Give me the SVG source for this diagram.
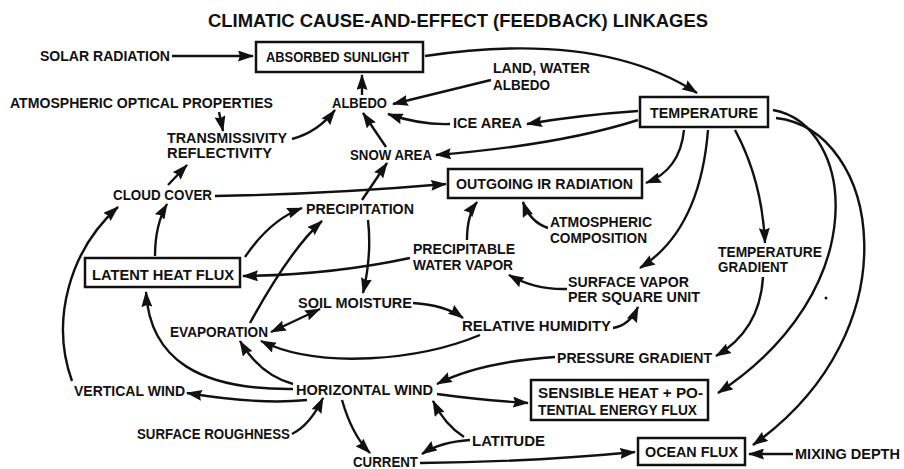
<svg xmlns="http://www.w3.org/2000/svg" width="904" height="469" viewBox="0 0 904 469">
<style>
text{font-family:"Liberation Sans",Arial,sans-serif;font-weight:bold;font-size:14px;fill:#111}
.title{font-size:18px}
.box{fill:#fff;stroke:#111;stroke-width:2.5}
.c{fill:none;stroke:#111;stroke-width:2.4;marker-end:url(#ah)}
.d{marker-start:url(#ah)}
</style>
<defs>
<marker id="ah" markerUnits="userSpaceOnUse" markerWidth="16" markerHeight="11" refX="15" refY="5.5" orient="auto-start-reverse" viewBox="0 0 16 11">
<path d="M0,0 L16,5.5 L0,11 L2,5.5 z" fill="#111"/>
</marker>
</defs>
<rect width="904" height="469" fill="#fff"/>
<text class="title" x="208" y="27" textLength="500" lengthAdjust="spacingAndGlyphs">CLIMATIC CAUSE-AND-EFFECT (FEEDBACK) LINKAGES</text>

<g id="connectors">
<path class="c" d="M172,56 L253,56"/>
<path class="c" d="M425,56 Q600,30 697,93"/>
<path class="c" d="M362,95 L362,75"/>
<path class="c" d="M491,80 Q430,95 393,104"/>
<path class="c" d="M450,124 Q420,125 388,114"/>
<path class="c" d="M638,111 Q580,115 527,124"/>
<path class="c" d="M638,120 Q560,145 436,155"/>
<path class="c" d="M219,112 L223,131"/>
<path class="c" d="M292,139 Q318,132 335,110"/>
<path class="c" d="M386,147 L363,113"/>
<path class="c" d="M684,130 Q680,170 646,183"/>
<path class="c" d="M708,130 Q700,230 640,268"/>
<path class="c" d="M735,130 Q762,180 765,243"/>
<path class="c" d="M763,277 Q760,330 716,356"/>
<path class="c" d="M773,110 C855,125 875,290 718,393"/>
<path class="c" d="M776,118 C880,130 915,330 753,445"/>
<path class="c" d="M548,228 Q530,222 523,202"/>
<path class="c" d="M467,240 Q467,215 477,202"/>
<path class="c" d="M410,258 Q330,275 243,276"/>
<path class="c" d="M567,289 Q535,290 509,275"/>
<path class="c" d="M215,196 Q330,194 446,184"/>
<path class="c" d="M168,185 L187,165"/>
<path class="c" d="M155,256 Q155,225 167,204"/>
<path class="c" d="M72,381 C50,320 70,250 118,207"/>
<path class="c" d="M245,257 Q270,220 302,208"/>
<path class="c" d="M362,200 L387,163"/>
<path class="c" d="M368,220 Q372,255 363,293"/>
<path class="c" d="M250,323 Q290,250 322,221"/>
<path class="c" d="M413,303 Q445,305 463,318"/>
<path class="c" d="M613,328 Q630,325 638,307"/>
<path class="c d" d="M271,332 L320,309"/>
<path class="c" d="M480,335 C420,360 320,370 261,341"/>
<path class="c" d="M555,357 Q480,362 437,384"/>
<path class="c" d="M437,394 Q480,400 528,403"/>
<path class="c" d="M293,384 Q260,375 240,341"/>
<path class="c" d="M293,389 C200,390 150,360 146,292"/>
<path class="c" d="M307,400 Q260,405 187,393"/>
<path class="c" d="M292,434 Q310,425 323,398"/>
<path class="c" d="M342,400 Q352,435 370,453"/>
<path class="c" d="M470,440 Q440,442 422,454"/>
<path class="c" d="M464,437 Q445,425 433,401"/>
<path class="c" d="M420,463 Q530,462 635,452"/>
<path class="c" d="M793,454 L749,454"/>
</g>

<g id="solar-radiation"><text x="40" y="61" textLength="130" lengthAdjust="spacingAndGlyphs">SOLAR RADIATION</text></g>
<g id="absorbed-sunlight"><rect class="box" x="256" y="42" width="167" height="30"/><text x="266" y="62" textLength="143" lengthAdjust="spacingAndGlyphs">ABSORBED SUNLIGHT</text></g>
<g id="albedo"><text x="332" y="108" textLength="55" lengthAdjust="spacingAndGlyphs">ALBEDO</text></g>
<g id="atmospheric-optical-properties"><text x="10" y="108" textLength="263" lengthAdjust="spacingAndGlyphs">ATMOSPHERIC OPTICAL PROPERTIES</text></g>
<g id="land-water-albedo"><text x="493" y="73" textLength="97" lengthAdjust="spacingAndGlyphs">LAND, WATER</text><text x="493" y="90" textLength="57" lengthAdjust="spacingAndGlyphs">ALBEDO</text></g>
<g id="ice-area"><text x="453" y="128" textLength="69" lengthAdjust="spacingAndGlyphs">ICE AREA</text></g>
<g id="temperature"><rect class="box" x="640" y="97" width="128" height="30"/><text x="650" y="118" textLength="108" lengthAdjust="spacingAndGlyphs">TEMPERATURE</text></g>
<g id="transmissivity-reflectivity"><text x="167" y="143" textLength="120" lengthAdjust="spacingAndGlyphs">TRANSMISSIVITY</text><text x="167" y="158" textLength="105" lengthAdjust="spacingAndGlyphs">REFLECTIVITY</text></g>
<g id="snow-area"><text x="350" y="160" textLength="82" lengthAdjust="spacingAndGlyphs">SNOW AREA</text></g>
<g id="outgoing-ir"><rect class="box" x="448" y="169" width="194" height="29"/><text x="456" y="189" textLength="177" lengthAdjust="spacingAndGlyphs">OUTGOING IR RADIATION</text></g>
<g id="cloud-cover"><text x="113" y="200" textLength="99" lengthAdjust="spacingAndGlyphs">CLOUD COVER</text></g>
<g id="precipitation"><text x="306" y="214" textLength="108" lengthAdjust="spacingAndGlyphs">PRECIPITATION</text></g>
<g id="atmospheric-composition"><text x="550" y="227" textLength="102" lengthAdjust="spacingAndGlyphs">ATMOSPHERIC</text><text x="550" y="243" textLength="97" lengthAdjust="spacingAndGlyphs">COMPOSITION</text></g>
<g id="precipitable-water-vapor"><text x="413" y="254" textLength="102" lengthAdjust="spacingAndGlyphs">PRECIPITABLE</text><text x="413" y="270" textLength="100" lengthAdjust="spacingAndGlyphs">WATER VAPOR</text></g>
<g id="temperature-gradient"><text x="718" y="257" textLength="104" lengthAdjust="spacingAndGlyphs">TEMPERATURE</text><text x="718" y="272" textLength="70" lengthAdjust="spacingAndGlyphs">GRADIENT</text></g>
<g id="latent-heat-flux"><rect class="box" x="85" y="258" width="155" height="29"/><text x="92" y="280" textLength="142" lengthAdjust="spacingAndGlyphs">LATENT HEAT FLUX</text></g>
<g id="surface-vapor"><text x="568" y="287" textLength="121" lengthAdjust="spacingAndGlyphs">SURFACE VAPOR</text><text x="568" y="302" textLength="132" lengthAdjust="spacingAndGlyphs">PER SQUARE UNIT</text></g>
<g id="soil-moisture"><text x="298" y="308" textLength="114" lengthAdjust="spacingAndGlyphs">SOIL MOISTURE</text></g>
<g id="relative-humidity"><text x="462" y="331" textLength="149" lengthAdjust="spacingAndGlyphs">RELATIVE HUMIDITY</text></g>
<g id="evaporation"><text x="170" y="337" textLength="98" lengthAdjust="spacingAndGlyphs">EVAPORATION</text></g>
<g id="pressure-gradient"><text x="557" y="363" textLength="155" lengthAdjust="spacingAndGlyphs">PRESSURE GRADIENT</text></g>
<g id="horizontal-wind"><text x="296" y="395" textLength="137" lengthAdjust="spacingAndGlyphs">HORIZONTAL WIND</text></g>
<g id="vertical-wind"><text x="74" y="396" textLength="111" lengthAdjust="spacingAndGlyphs">VERTICAL WIND</text></g>
<g id="sensible-heat"><rect class="box" x="531" y="380" width="177" height="40"/><text x="538" y="398" textLength="165" lengthAdjust="spacingAndGlyphs">SENSIBLE HEAT + PO-</text><text x="538" y="415" textLength="159" lengthAdjust="spacingAndGlyphs">TENTIAL ENERGY FLUX</text></g>
<g id="surface-roughness"><text x="137" y="439" textLength="153" lengthAdjust="spacingAndGlyphs">SURFACE ROUGHNESS</text></g>
<g id="latitude"><text x="472" y="446" textLength="73" lengthAdjust="spacingAndGlyphs">LATITUDE</text></g>
<g id="current"><text x="353" y="467" textLength="65" lengthAdjust="spacingAndGlyphs">CURRENT</text></g>
<g id="ocean-flux"><rect class="box" x="638" y="438" width="107" height="27"/><text x="645" y="457" textLength="93" lengthAdjust="spacingAndGlyphs">OCEAN FLUX</text></g>
<g id="mixing-depth"><text x="795" y="459" textLength="105" lengthAdjust="spacingAndGlyphs">MIXING DEPTH</text></g>
<circle cx="826" cy="298" r="1.5" fill="#111"/>
</svg>
